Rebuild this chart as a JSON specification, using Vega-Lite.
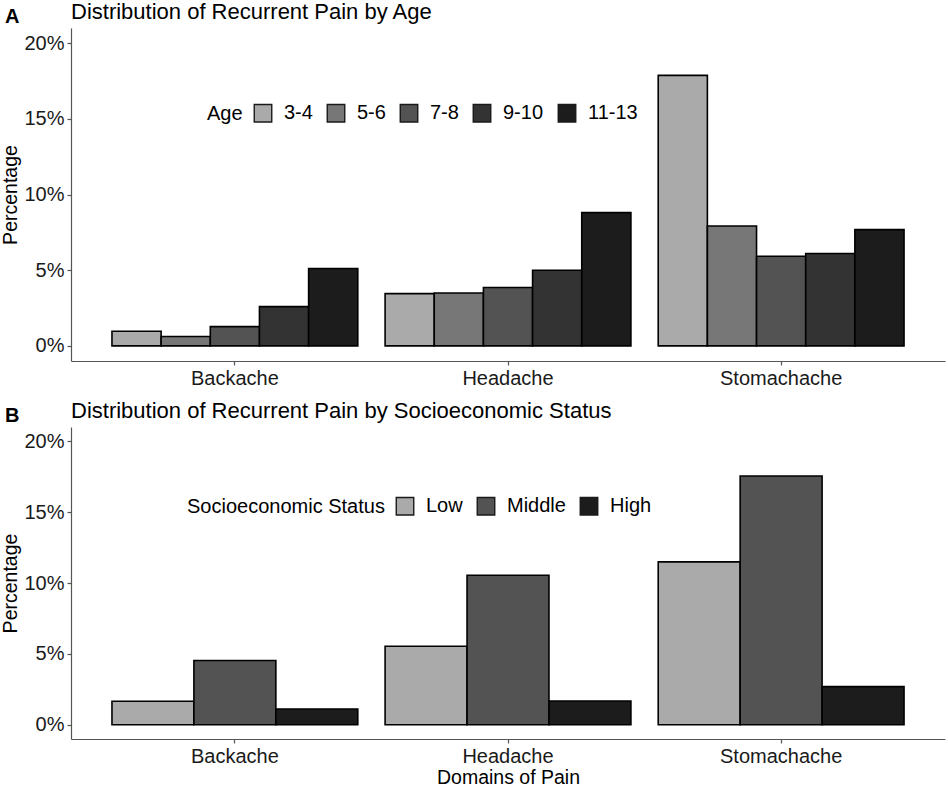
{
  "$schema": "https://vega.github.io/schema/vega-lite/v6.json",
  "padding": {"left": 0, "top": 1, "right": 2, "bottom": 2},
  "background": "white",
  "config": {
    "font": "Liberation Sans",
    "view": {"stroke": null},
    "axis": {
      "domainColor": "#555555",
      "domainWidth": 1.2,
      "tickColor": "#555555",
      "tickWidth": 1.2,
      "tickSize": 4,
      "labelColor": "#1a1a1a",
      "labelFontSize": 20,
      "titleFontSize": 19.5,
      "titleFontWeight": "normal",
      "titleColor": "#000000",
      "labelPadding": 3,
      "grid": false
    },
    "legend": {
      "labelFontSize": 20,
      "titleFontSize": 20,
      "titleFontWeight": "normal",
      "labelColor": "#000000",
      "titleColor": "#000000",
      "titleLimit": 400,
      "labelLimit": 200
    },
    "title": {"fontWeight": "normal", "color": "#000000"},
    "concat": {"spacing": 12}
  },
  "resolve": {
    "scale": {"color": "independent", "xOffset": "independent"},
    "legend": {"color": "independent"}
  },
  "datasets": {
    "age": [
      {"domain": "Backache", "age": "3-4", "pct": 0.97},
      {"domain": "Backache", "age": "5-6", "pct": 0.62},
      {"domain": "Backache", "age": "7-8", "pct": 1.27},
      {"domain": "Backache", "age": "9-10", "pct": 2.59},
      {"domain": "Backache", "age": "11-13", "pct": 5.11},
      {"domain": "Headache", "age": "3-4", "pct": 3.45},
      {"domain": "Headache", "age": "5-6", "pct": 3.49},
      {"domain": "Headache", "age": "7-8", "pct": 3.86},
      {"domain": "Headache", "age": "9-10", "pct": 5.0},
      {"domain": "Headache", "age": "11-13", "pct": 8.8},
      {"domain": "Stomachache", "age": "3-4", "pct": 17.87},
      {"domain": "Stomachache", "age": "5-6", "pct": 7.92},
      {"domain": "Stomachache", "age": "7-8", "pct": 5.92},
      {"domain": "Stomachache", "age": "9-10", "pct": 6.1},
      {"domain": "Stomachache", "age": "11-13", "pct": 7.68}
    ],
    "ses": [
      {"domain": "Backache", "ses": "Low", "pct": 1.66},
      {"domain": "Backache", "ses": "Middle", "pct": 4.54},
      {"domain": "Backache", "ses": "High", "pct": 1.12},
      {"domain": "Headache", "ses": "Low", "pct": 5.54},
      {"domain": "Headache", "ses": "Middle", "pct": 10.55},
      {"domain": "Headache", "ses": "High", "pct": 1.68},
      {"domain": "Stomachache", "ses": "Low", "pct": 11.49},
      {"domain": "Stomachache", "ses": "Middle", "pct": 17.54},
      {"domain": "Stomachache", "ses": "High", "pct": 2.69}
    ]
  },
  "vconcat": [
    {
      "title": {"text": "A", "anchor": "start", "frame": "bounds", "fontSize": 20, "fontWeight": "bold", "dy": 30, "dx": 4},
      "vconcat": [
        {
          "width": 874,
          "height": 333,
          "data": {"name": "age"},
          "title": {"text": "Distribution of Recurrent Pain by Age", "anchor": "start", "frame": "group", "fontSize": 22},
          "mark": {"type": "bar", "stroke": "black", "strokeWidth": 1.6},
          "encoding": {
            "x": {
              "field": "domain", "type": "nominal",
              "sort": ["Backache", "Headache", "Stomachache"],
              "scale": {"paddingInner": 0.1, "paddingOuter": 0.15},
              "axis": {"title": null, "labelAngle": 0}
            },
            "xOffset": {"field": "age", "type": "nominal", "sort": ["3-4", "5-6", "7-8", "9-10", "11-13"]},
            "y": {
              "field": "pct", "type": "quantitative",
              "scale": {"domain": [-1, 21]},
              "axis": {"values": [0, 5, 10, 15, 20], "labelExpr": "datum.value + '%'", "title": "Percentage", "titlePadding": 3}
            },
            "color": {
              "field": "age", "type": "nominal",
              "scale": {"domain": ["3-4", "5-6", "7-8", "9-10", "11-13"], "range": ["#aaaaaa", "#777777", "#535353", "#333333", "#1c1c1c"]},
              "legend": {
                "title": "Age", "orient": "none", "legendX": 136, "legendY": 75,
                "direction": "horizontal", "titleOrient": "left", "titleBaseline": "middle",
                "symbolType": "square", "symbolSize": 306, "symbolStrokeColor": "#1a1a1a", "symbolStrokeWidth": 1.4,
                "symbolOpacity": 1, "labelOffset": 11, "columnPadding": 11, "titlePadding": 10
              }
            }
          }
        }
      ]
    },
    {
      "title": {"text": "B", "anchor": "start", "frame": "bounds", "fontSize": 20, "fontWeight": "bold", "dy": 30, "dx": 4},
      "vconcat": [
        {
          "width": 874,
          "height": 312,
          "data": {"name": "ses"},
          "title": {"text": "Distribution of Recurrent Pain by Socioeconomic Status", "anchor": "start", "frame": "group", "fontSize": 22},
          "mark": {"type": "bar", "stroke": "black", "strokeWidth": 1.6},
          "encoding": {
            "x": {
              "field": "domain", "type": "nominal",
              "sort": ["Backache", "Headache", "Stomachache"],
              "scale": {"paddingInner": 0.1, "paddingOuter": 0.15},
              "axis": {"title": "Domains of Pain", "labelAngle": 0, "titlePadding": 2}
            },
            "xOffset": {"field": "ses", "type": "nominal", "sort": ["Low", "Middle", "High"]},
            "y": {
              "field": "pct", "type": "quantitative",
              "scale": {"domain": [-1, 21]},
              "axis": {"values": [0, 5, 10, 15, 20], "labelExpr": "datum.value + '%'", "title": "Percentage", "titlePadding": 3}
            },
            "color": {
              "field": "ses", "type": "nominal",
              "scale": {"domain": ["Low", "Middle", "High"], "range": ["#aaaaaa", "#535353", "#1c1c1c"]},
              "legend": {
                "title": "Socioeconomic Status", "orient": "none", "legendX": 116, "legendY": 69,
                "direction": "horizontal", "titleOrient": "left", "titleBaseline": "middle",
                "symbolType": "square", "symbolSize": 306, "symbolStrokeColor": "#1a1a1a", "symbolStrokeWidth": 1.4,
                "symbolOpacity": 1, "labelOffset": 11, "columnPadding": 11, "titlePadding": 10
              }
            }
          }
        }
      ]
    }
  ]
}
